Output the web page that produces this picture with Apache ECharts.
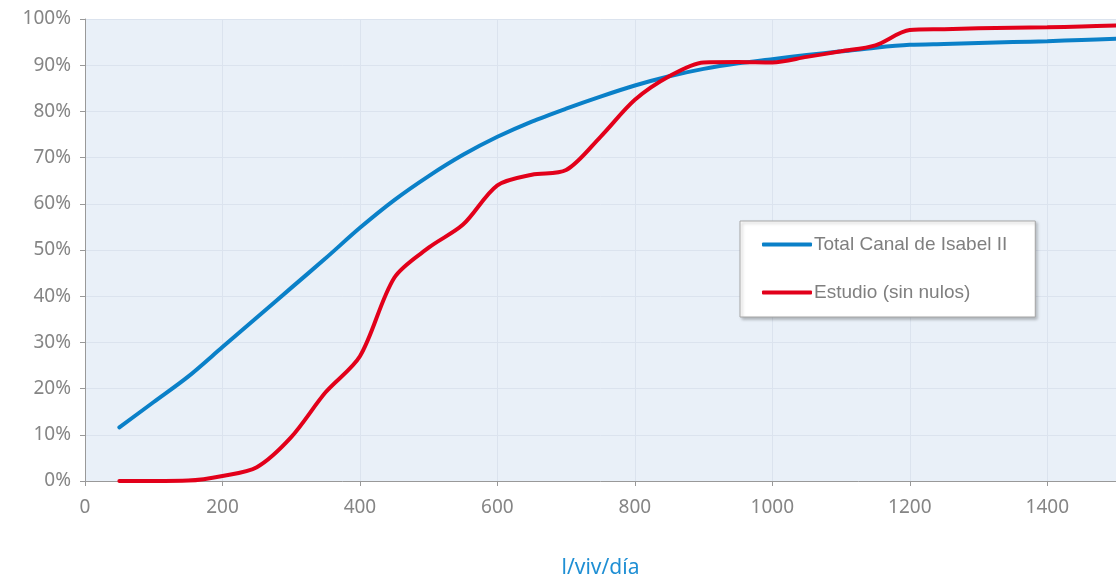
<!DOCTYPE html>
<html>
<head>
<meta charset="utf-8">
<script src="https://cdn.jsdelivr.net/npm/echarts@6/dist/echarts.min.js"></script>
<style>html,body{margin:0;padding:0;background:#fff}#c{width:1116px;height:583px}</style>
</head>
<body>
<div id="c"></div>
<script>
const xValues = [50,100,150,200,250,300,350,400,450,500,550,600,650,700,750,800,850,900,950,1000,1050,1100,1150,1200,1250,1300,1350,1400,1450,1500];
const totalCanal = [11.6,17.1,22.6,29.0,35.4,41.8,48.2,54.8,60.8,66.0,70.6,74.5,77.8,80.6,83.2,85.6,87.6,89.2,90.4,91.3,92.2,93.0,93.8,94.4,94.6,94.8,95.0,95.2,95.45,95.7];
const estudio = [0,0,0.1,1.1,3.0,9.5,19.2,27.0,44.0,50.5,55.5,64.0,66.3,67.3,74.5,82.5,87.6,90.6,90.7,90.6,91.8,93.0,94.3,97.6,97.8,98.0,98.1,98.2,98.4,98.6];
const seriesNames = ['Total Canal de Isabel II','Estudio (sin nulos)'];
const xAxisName = 'l/viv/día';

const chart = echarts.init(document.getElementById('c'));
const pair = arr => xValues.map((x,i)=>[x,arr[i]]);
chart.setOption({
  animation:false,
  grid:{left:85,right:0,top:19,bottom:102,show:true,backgroundColor:'#E9F0F8',borderWidth:0,containLabel:false,outerBoundsMode:'none'},
  legend:{
    orient:'vertical',left:740,top:221,
    padding:[14,28,15,22],itemGap:29,
    itemWidth:50,itemHeight:4,
    backgroundColor:'#fff',borderColor:'#a6a6a6',borderWidth:1,
    shadowColor:'rgba(0,0,0,0.25)',shadowBlur:3,shadowOffsetX:2,shadowOffsetY:2,
    textStyle:{color:'#7f7f7f',fontSize:19,fontFamily:'Liberation Sans, Arial, sans-serif',padding:[0,0,0,-3]},
    data:[{name:seriesNames[0],icon:'roundRect'},{name:seriesNames[1],icon:'roundRect'}]
  },
  xAxis:{
    type:'value',min:0,max:1500,interval:200,
    name:xAxisName,nameLocation:'middle',nameGap:77,
    nameTextStyle:{color:'#1f8fd4',fontSize:21,fontFamily:'Noto Sans, sans-serif'},
    axisLine:{show:true,lineStyle:{color:'#999'}},
    axisTick:{show:true,length:5,lineStyle:{color:'#999'}},
    axisLabel:{color:'#858585',fontSize:19,margin:17,fontFamily:'Noto Sans, sans-serif',showMaxLabel:false,formatter:v=>String(v)},
    splitLine:{show:true,lineStyle:{color:'#dbe3ee'}}
  },
  yAxis:{
    type:'value',min:0,max:100,interval:10,
    axisLine:{show:true,lineStyle:{color:'#999'}},
    axisTick:{show:true,length:5,lineStyle:{color:'#999'}},
    axisLabel:{color:'#858585',fontSize:19,margin:14,fontFamily:'Noto Sans, sans-serif',formatter:'{value}%'},
    splitLine:{show:true,lineStyle:{color:'#dbe3ee'}}
  },
  series:[
    {name:seriesNames[0],type:'line',data:pair(totalCanal),smooth:0.3,showSymbol:false,symbol:'none',
     lineStyle:{color:'#0A80C8',width:4,cap:'round'},itemStyle:{color:'#0A80C8'}},
    {name:seriesNames[1],type:'line',data:pair(estudio),smooth:0.3,showSymbol:false,symbol:'none',
     lineStyle:{color:'#E2001A',width:4,cap:'round'},itemStyle:{color:'#E2001A'}}
  ]
});
</script>
</body>
</html>
